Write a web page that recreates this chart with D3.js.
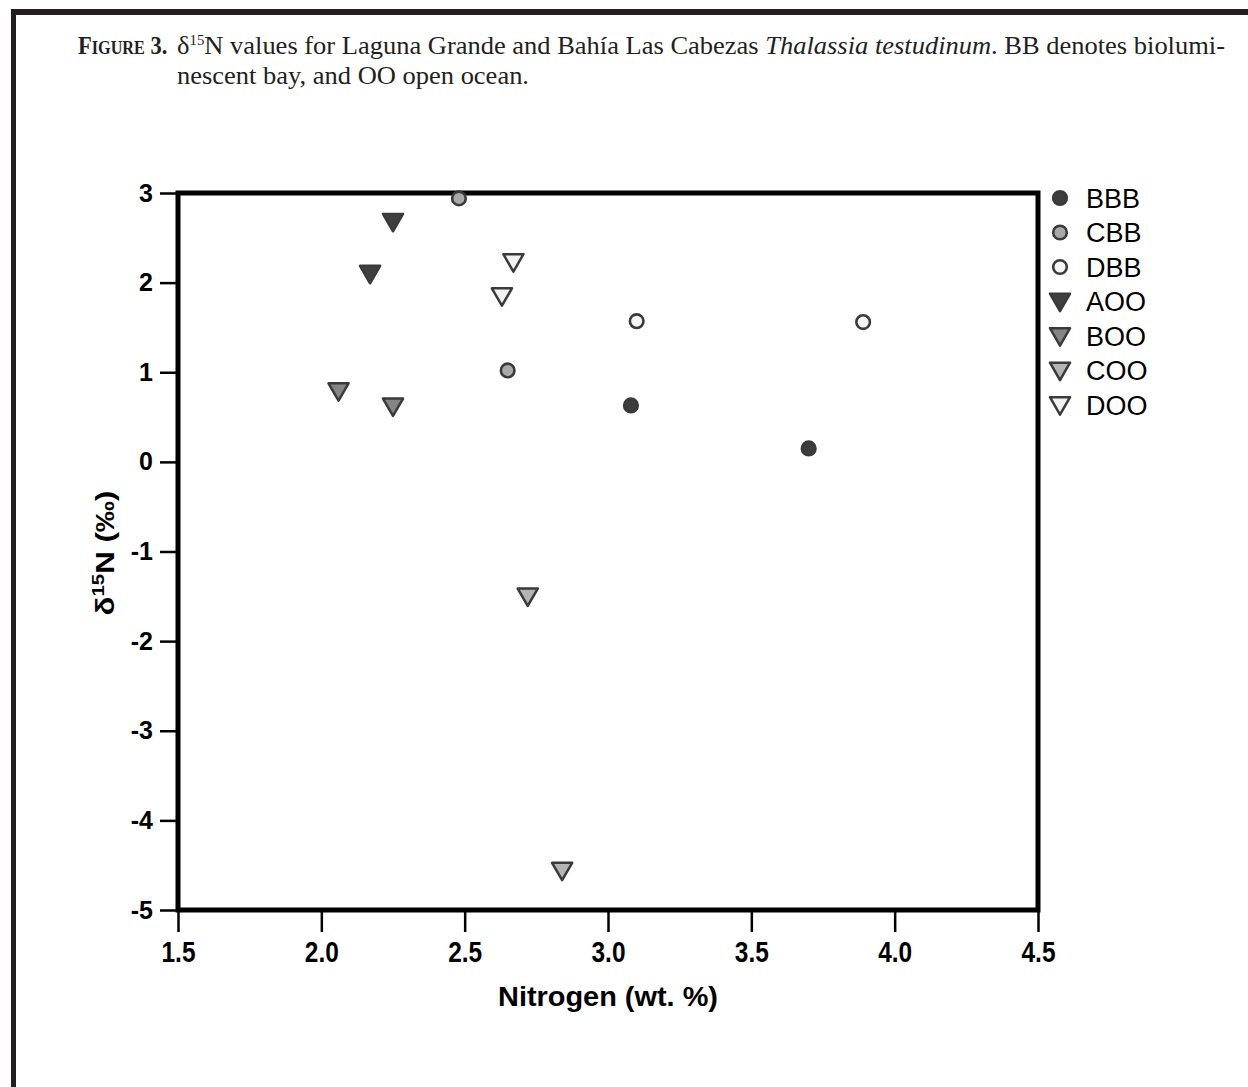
<!DOCTYPE html>
<html>
<head>
<meta charset="utf-8">
<script src="https://cdn.jsdelivr.net/npm/d3@7.9.0/dist/d3.min.js"></script>
<style>
  body { margin: 0; background: #fff; }
  svg { display: block; }
  .axis text { font-family: "Liberation Sans", Arial, sans-serif; font-weight: bold; fill: #000; }
  .axis path { display: none; }
  .axis line { stroke: #000; stroke-width: 2.5; }
</style>
</head>
<body>
<div id="chart"></div>
<script>
// series names and marker settings
const seriesNames = ['BBB', 'CBB', 'DBB', 'AOO', 'BOO', 'COO', 'DOO'];
const seriesShapes = ['circle', 'circle', 'circle', 'tri', 'tri', 'tri', 'tri'];
const seriesFills = ['#3d3d3d', '#a9a9a9', '#f5f5f5', '#3f3f3f', '#858585', '#b4b4b4', '#f2f2f2'];

// nitrogen (wt. %) and d15N values
const nitrogen = {
  BBB: [3.08, 3.70],
  CBB: [2.48, 2.65],
  DBB: [3.10, 3.89],
  AOO: [2.25, 2.17],
  BOO: [2.06, 2.25],
  COO: [2.72, 2.84],
  DOO: [2.67, 2.63],
};
const d15N = {
  BBB: [0.63, 0.15],
  CBB: [2.94, 1.02],
  DBB: [1.57, 1.56],
  AOO: [2.68, 2.10],
  BOO: [0.79, 0.62],
  COO: [-1.50, -4.56],
  DOO: [2.23, 1.85],
};

const xTicks = [1.5, 2.0, 2.5, 3.0, 3.5, 4.0, 4.5];
const yTicks = [3, 2, 1, 0, -1, -2, -3, -4, -5];

const width = 1248;
const height = 1087;
const plot = { left: 178, right: 1038, top: 193, bottom: 910 };

const svg = d3.select('#chart')
  .append('svg')
  .attr('width', width)
  .attr('height', height);

// page frame (top rule and left rule)
svg.append('rect').attr('x', 11).attr('y', 9).attr('width', width - 11).attr('height', 6).attr('fill', '#231f20');
svg.append('rect').attr('x', 11).attr('y', 9).attr('width', 5).attr('height', height - 9).attr('fill', '#231f20');

// caption
const cap = svg.append('g')
  .style('font-family', '"Liberation Serif", "Times New Roman", serif')
  .style('font-size', '25px')
  .attr('fill', '#231f20');

const l1 = cap.append('text').attr('transform', 'translate(78,54) scale(0.9,1)');
l1.append('tspan').attr('font-weight', 'bold').text('F');
l1.append('tspan').attr('font-weight', 'bold').style('font-size', '18px').text('IGURE');
l1.append('tspan').attr('font-weight', 'bold').text(' 3.');

const l1b = cap.append('text').attr('x', 177).attr('y', 54)
  .attr('textLength', 1048).attr('lengthAdjust', 'spacingAndGlyphs');
l1b.append('tspan').text('δ');
l1b.append('tspan').attr('dy', -9).style('font-size', '14px').text('15');
l1b.append('tspan').attr('dy', 9).text('N values for Laguna Grande and Bahía Las Cabezas ');
l1b.append('tspan').attr('font-style', 'italic').text('Thalassia testudinum');
l1b.append('tspan').text('. BB denotes biolumi-');

cap.append('text').attr('x', 177).attr('y', 84)
  .attr('textLength', 352).attr('lengthAdjust', 'spacingAndGlyphs')
  .text('nescent bay, and OO open ocean.');

// scales
const x = d3.scaleLinear().domain([1.5, 4.5]).range([plot.left, plot.right]);
const y = d3.scaleLinear().domain([-5, 3]).range([plot.bottom, plot.top]);

// axes
svg.append('g')
  .attr('class', 'axis y-axis')
  .attr('transform', `translate(${plot.left - 2},0)`)
  .call(d3.axisLeft(y).tickValues(yTicks).tickSize(16).tickPadding(7).tickFormat((d) => String(d)))
  .selectAll('text')
  .style('font-size', '25px');

svg.append('g')
  .attr('class', 'axis x-axis')
  .attr('transform', `translate(0,${plot.bottom + 2})`)
  .call(d3.axisBottom(x).tickValues(xTicks).tickSize(20).tickPadding(9).tickFormat(d3.format('.1f')))
  .selectAll('text')
  .style('font-size', '29px')
  .attr('textLength', 34)
  .attr('lengthAdjust', 'spacingAndGlyphs');

// plot box
svg.append('rect')
  .attr('x', plot.left)
  .attr('y', plot.top)
  .attr('width', plot.right - plot.left)
  .attr('height', plot.bottom - plot.top)
  .attr('fill', 'none')
  .attr('stroke', '#000')
  .attr('stroke-width', 5);

// axis titles
svg.append('text')
  .attr('x', (plot.left + plot.right) / 2)
  .attr('y', 1006)
  .attr('text-anchor', 'middle')
  .attr('textLength', 220)
  .attr('lengthAdjust', 'spacingAndGlyphs')
  .style('font-family', '"Liberation Sans", Arial, sans-serif')
  .style('font-weight', 'bold')
  .style('font-size', '28px')
  .text('Nitrogen (wt. %)');

const yt = svg.append('text')
  .attr('transform', 'translate(114,553) rotate(-90)')
  .attr('text-anchor', 'middle')
  .attr('textLength', 125)
  .attr('lengthAdjust', 'spacingAndGlyphs')
  .style('font-family', '"Liberation Sans", Arial, sans-serif')
  .style('font-weight', 'bold')
  .style('font-size', '26px');
yt.append('tspan').text('δ');
yt.append('tspan').attr('dy', -10).style('font-size', '17px').text('15');
yt.append('tspan').attr('dy', 10).text('N (‰)');

// markers
const triangle = d3.symbol().type(d3.symbolTriangle).size(175);

function drawMarker(g, shape, fill) {
  if (shape === 'circle') {
    g.append('circle')
      .attr('r', 6.8)
      .attr('fill', fill)
      .attr('stroke', '#3a3a3a')
      .attr('stroke-width', 2.6);
  } else {
    g.append('path')
      .attr('d', triangle)
      .attr('transform', 'rotate(180) translate(0,2)')
      .attr('fill', fill)
      .attr('stroke', '#3a3a3a')
      .attr('stroke-width', 2.5)
      .attr('stroke-linejoin', 'round');
  }
}

const points = seriesNames.flatMap((name, i) =>
  nitrogen[name].map((n, j) => ({ name, i, n, v: d15N[name][j] })),
);

svg.append('g')
  .attr('class', 'dots')
  .selectAll('g')
  .data(points)
  .join('g')
  .attr('transform', (d) => `translate(${x(d.n)},${y(d.v)})`)
  .each(function (d) {
    drawMarker(d3.select(this), seriesShapes[d.i], seriesFills[d.i]);
  });

// legend
const legend = svg.append('g').attr('class', 'legend');
const rowY = d3.scaleLinear().domain([0, 6]).range([198, 405]);

seriesNames.forEach((name, i) => {
  const row = legend.append('g').attr('transform', `translate(1060,${rowY(i)})`);
  drawMarker(row, seriesShapes[i], seriesFills[i]);
  row.append('text')
    .attr('x', 26)
    .attr('dy', '0.36em')
    .style('font-family', '"Liberation Sans", Arial, sans-serif')
    .style('font-size', '27px')
    .text(name);
});
</script>
</body>
</html>
